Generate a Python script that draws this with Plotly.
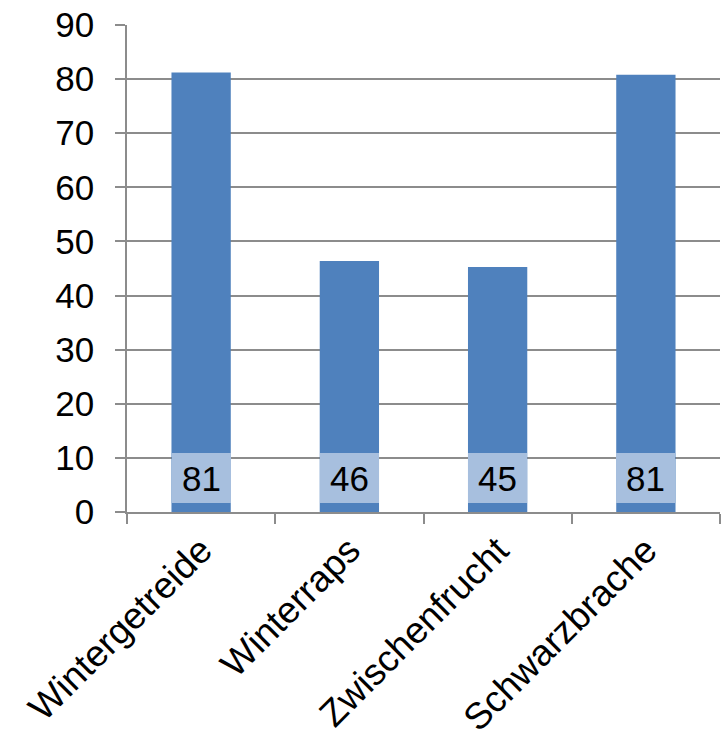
import plotly.graph_objects as go

categories = ["Wintergetreide", "Winterraps", "Zwischenfrucht", "Schwarzbrache"]
values = [81.2, 46.4, 45.3, 80.8]
y_ticks = [0, 10, 20, 30, 40, 50, 60, 70, 80, 90]

BAR_COLOR = "#4F81BD"
BOX_COLOR = "#A7BFDE"
GRID_COLOR = "#8C8C8C"
FONT = "Arial, Liberation Sans, sans-serif"
LABEL_Y = 6.3

fig = go.Figure()
fig.add_trace(go.Bar(
    x=categories, y=values, width=0.4,
    marker=dict(color=BAR_COLOR, line=dict(width=0)),
    hoverinfo="skip",
))

for c, v in zip(categories, values):
    fig.add_annotation(
        x=c, y=LABEL_Y, xref="x", yref="y",
        text=str(round(v)), showarrow=False,
        bgcolor=BOX_COLOR, width=59, height=50,
        borderpad=0, borderwidth=0,
        font=dict(family=FONT, size=35, color="black"),
        xanchor="center", yanchor="middle",
    )

fig.update_layout(
    width=727, height=733,
    margin=dict(l=127, r=7, t=25, b=221),
    plot_bgcolor="white", paper_bgcolor="white",
    showlegend=False,
    bargap=0.6,
    font=dict(family=FONT, size=35, color="black"),
)
fig.update_xaxes(
    type="category", automargin=False,
    showline=True, linecolor=GRID_COLOR, linewidth=1.5,
    ticks="outside", tickson="boundaries", ticklen=10, tickcolor=GRID_COLOR, tickwidth=1.5,
    tickangle=-45, showgrid=False,
    tickfont=dict(family=FONT, size=37, color="black"),
)
fig.update_yaxes(
    range=[0, 90], tickvals=y_ticks, automargin=False,
    showline=True, linecolor=GRID_COLOR, linewidth=1.5,
    ticks="outside", ticklen=10, tickcolor=GRID_COLOR, tickwidth=1.5,
    showgrid=True, gridcolor=GRID_COLOR, gridwidth=1.5,
    zeroline=False,
    ticklabelstandoff=14,
    tickfont=dict(family=FONT, size=35, color="black"),
)

fig.write_html("out.html")
